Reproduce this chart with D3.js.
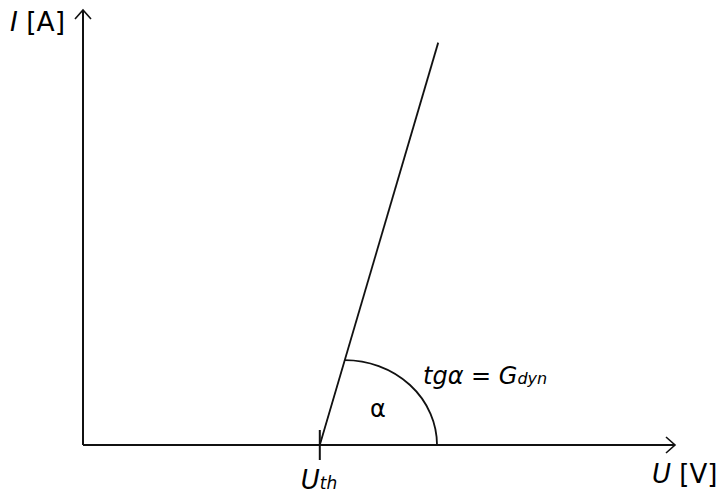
<!DOCTYPE html>
<html><head><meta charset="utf-8">
<script src="https://cdn.jsdelivr.net/npm/d3@7"></script>
<style>html,body{margin:0;padding:0;background:#fff;}svg{display:block;font-family:"DejaVu Sans",sans-serif;}</style>
</head><body>
<script>
const uDomain = [0, 10];
const iDomain = [0, 10];
const Uth = 4;
const linePoints = [{u: 4, i: 0}, {u: 6, i: 9.25}];
const arcI = 1.95;   // where the angle arc meets the line
const arcU = 5.98;   // where the angle arc meets the U axis
const xLabel = "U", xUnit = " [V]";
const yLabel = "I", yUnit = " [A]";

const W = 718, H = 496;
const svg = d3.select("body").append("svg").attr("width", W).attr("height", H);
const x = d3.scaleLinear().domain(uDomain).range([83, 675]);
const y = d3.scaleLinear().domain(iDomain).range([445, 10]);

const stroke = "#111";
// axes
svg.append("line").attr("x1", x(0)).attr("y1", y(0)).attr("x2", x(uDomain[1])).attr("y2", y(0))
  .attr("stroke", stroke).attr("stroke-width", 2);
svg.append("line").attr("x1", x(0)).attr("y1", y(0)).attr("x2", x(0)).attr("y2", y(iDomain[1]))
  .attr("stroke", stroke).attr("stroke-width", 2);
// arrowheads
const ax = x(uDomain[1]), ay = y(0);
svg.append("path").attr("d", `M${ax-9},${ay-8} L${ax},${ay} L${ax-9},${ay+8}`)
  .attr("fill", "none").attr("stroke", stroke).attr("stroke-width", 1.6);
const bx = x(0), by = y(iDomain[1]);
svg.append("path").attr("d", `M${bx-8},${by+9} L${bx},${by} L${bx+8},${by+9}`)
  .attr("fill", "none").attr("stroke", stroke).attr("stroke-width", 1.6);

// tick at Uth
svg.append("line").attr("x1", x(Uth)).attr("x2", x(Uth)).attr("y1", y(0) - 15).attr("y2", y(0) + 15)
  .attr("stroke", stroke).attr("stroke-width", 2);

// characteristic line
svg.append("path").datum(linePoints)
  .attr("d", d3.line().x(d => x(d.u)).y(d => y(d.i)))
  .attr("fill", "none").attr("stroke", stroke).attr("stroke-width", 1.8);

// angle arc
const p0 = linePoints[0], p1 = linePoints[1];
const topU = p0.u + (p1.u - p0.u) * (arcI - p0.i) / (p1.i - p0.i);
const tx = x(topU), ty = y(arcI), ex = x(arcU), ey = y(0);
svg.append("path").attr("d", `M${tx},${ty} A${ex - tx},${ey - ty} 0 0 1 ${ex},${ey}`)
  .attr("fill", "none").attr("stroke", stroke).attr("stroke-width", 1.8);

// labels
const yl = svg.append("text").attr("x", 10).attr("y", 31).attr("font-size", 26.5).attr("fill", "#000");
yl.append("tspan").attr("font-style", "italic").text(yLabel);
yl.append("tspan").text(yUnit);

const xl = svg.append("text").attr("x", 652).attr("y", 483).attr("font-size", 26).attr("fill", "#000");
xl.append("tspan").attr("font-style", "italic").text(xLabel);
xl.append("tspan").text(xUnit);

const ut = svg.append("text").attr("x", x(Uth) - 19).attr("y", 489).attr("font-size", 26)
  .attr("font-style", "italic").attr("fill", "#000");
ut.append("tspan").text("U");
ut.append("tspan").attr("font-size", 17).text("th");

const tg = svg.append("text").attr("x", 423).attr("y", 384).attr("font-size", 24)
  .attr("font-style", "italic").attr("fill", "#000");
tg.append("tspan").text("tgα = G");
tg.append("tspan").attr("font-size", 16).text("dyn");

svg.append("text").attr("x", 370).attr("y", 417).attr("font-size", 24).attr("fill", "#000").text("α");
</script>
</body></html>
